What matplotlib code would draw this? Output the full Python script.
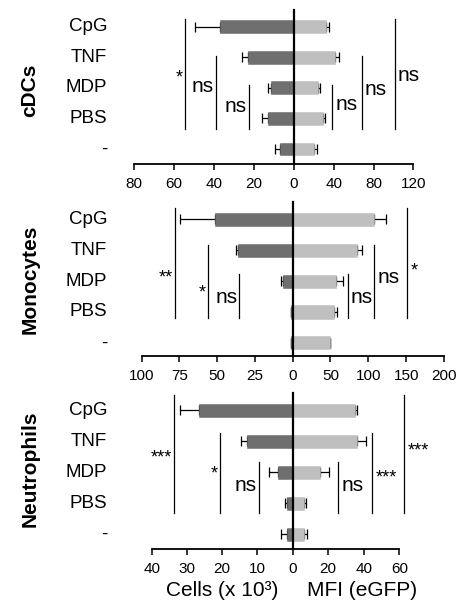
import matplotlib
matplotlib.use("Agg")
import matplotlib.pyplot as plt
import matplotlib.transforms as mtransforms

plt.rcParams['font.family'] = ['Liberation Sans', 'DejaVu Sans']

categories = ['CpG', 'TNF', 'MDP', 'PBS', '-']

# cDCs
cdc_cells = [36.7, 22.8, 11.5, 13.2, 7.0]
cdc_cells_err = [12.8, 3.4, 1.3, 3.0, 2.5]
cdc_mfi = [31.7, 41.0, 23.7, 28.7, 20.3]
cdc_mfi_err = [3.3, 4.5, 2.3, 2.3, 3.0]

# Monocytes
mono_cells = [51.7, 36.2, 6.0, 1.1, 0.7]
mono_cells_err = [22.7, 1.3, 1.7, 0.0, 0.0]
mono_mfi = [107.0, 85.0, 57.7, 55.0, 49.0]
mono_mfi_err = [16.0, 6.5, 8.3, 3.6, 0.5]

# Neutrophils
neut_cells = [26.7, 12.9, 4.3, 1.7, 1.7]
neut_cells_err = [5.2, 1.9, 2.3, 0.4, 1.6]
neut_mfi = [35.0, 36.0, 15.4, 6.6, 6.6]
neut_mfi_err = [1.3, 5.2, 5.2, 0.9, 1.3]

# significance: (x value, first category index, label)
cdc_sig_left = [(54.3, 0, '*'), (39.0, 1, 'ns'), (22.7, 2, 'ns')]
cdc_sig_right = [(38.7, 2, 'ns'), (68.0, 1, 'ns'), (101.3, 0, 'ns')]
mono_sig_left = [(77.9, 0, '**'), (56.3, 1, '*'), (35.3, 2, 'ns')]
mono_sig_right = [(72.5, 2, 'ns'), (107.7, 1, 'ns'), (151.2, 0, '*')]
neut_sig_left = [(33.7, 0, '***'), (20.6, 1, '*'), (9.7, 2, 'ns')]
neut_sig_right = [(25.7, 2, 'ns'), (44.8, 1, '***'), (62.8, 0, '***')]

dark = '#6f6f6f'
light = '#bfbfbf'

W, H = 457, 609
fig = plt.figure(figsize=(W / 100, H / 100), dpi=100)


def px_axes(x0, x1, top, bottom):
    return fig.add_axes([x0 / W, 1 - bottom / H, (x1 - x0) / W, (bottom - top) / H])


def sig_label(ax, x, y, text, side):
    big = text == 'ns'
    off = -2 if side == 'left' else 3
    tr = mtransforms.offset_copy(ax.transData, fig=fig, x=off, y=0, units='dots')
    ax.text(x, y if big else y + 0.2, text, transform=tr,
            ha='right' if side == 'left' else 'left', va='center',
            fontsize=15 if big else 13, clip_on=False)


def draw_panel(name, name_y, cells, cells_err, mfi, mfi_err, sig_l, sig_r,
               x0, zero, x1, top, bottom, ylim, lmax, rmax, lticks, rticks,
               tops, sig_bottom, label_y):
    axl = px_axes(x0, zero, top, bottom)
    axr = px_axes(zero, x1, top, bottom)
    y = list(range(len(categories)))
    for ax, vals, errs, col, xmax in [(axl, cells, cells_err, dark, lmax),
                                      (axr, mfi, mfi_err, light, rmax)]:
        ax.errorbar(vals, y, xerr=[[0] * len(vals), errs], fmt='none',
                    ecolor='black', elinewidth=0.9, capsize=3.5, capthick=0.9,
                    zorder=1)
        ax.barh(y, vals, height=0.42, color=col, edgecolor=col, lw=0.4, zorder=2)
        ax.set_ylim(*ylim)
        for s in ['left', 'right', 'top']:
            ax.spines[s].set_visible(False)
        ax.spines['bottom'].set_linewidth(1.3)
        ax.set_yticks([])
        ax.tick_params(axis='x', length=4.5, width=1.1, labelsize=11, pad=4.5)
        ax.patch.set_alpha(0)
    axl.set_xlim(lmax, 0)
    axr.set_xlim(0, rmax)
    axl.set_xticks(lticks)
    axl.set_xticklabels([str(t) for t in lticks])
    axr.set_xticks(rticks)
    axr.set_xticklabels([str(t) for t in rticks])
    axr.axvline(0, color='black', lw=1.6, clip_on=False, zorder=3)

    for ax, sigs, side in [(axl, sig_l, 'left'), (axr, sig_r, 'right')]:
        for (xv, first, text) in sigs:
            t = tops[first]
            ax.plot([xv, xv], [t, sig_bottom], color='black', lw=0.9,
                    clip_on=False)
            sig_label(ax, xv, label_y[side][first], text, side)

    tr = mtransforms.blended_transform_factory(fig.transFigure, axl.transData)
    for i, c in enumerate(categories):
        fig.text(107 / W, i, c, transform=tr, ha='right', va='center',
                 fontsize=13.5)
    fig.text(30 / W, 1 - name_y / H, name, rotation=90,
             ha='center', va='center', fontsize=15, fontweight='bold')


draw_panel('cDCs', 90, cdc_cells, cdc_cells_err, cdc_mfi, cdc_mfi_err,
           cdc_sig_left, cdc_sig_right,
           133.7, 294, 413.3, 10, 164, (4.49, -0.546), 80, 120,
           [80, 60, 40, 20, 0], [40, 80, 120],
           {0: -0.25, 1: 0.96, 2: 1.9}, 3.34,
           {'left': {0: 1.47, 1: 1.96, 2: 2.61}, 'right': {2: 2.56, 1: 2.07, 0: 1.61}})

draw_panel('Monocytes', 279, mono_cells, mono_cells_err, mono_mfi, mono_mfi_err,
           mono_sig_left, mono_sig_right,
           141.7, 292.5, 444.3, 202, 356, (4.42, -0.55), 100, 200,
           [100, 75, 50, 25, 0], [50, 100, 150, 200],
           {0: -0.35, 1: 0.84, 2: 1.77}, 3.18,
           {'left': {0: 1.71, 1: 2.19, 2: 2.52}, 'right': {2: 2.52, 1: 1.9, 0: 1.48}})

draw_panel('Neutrophils', 469, neut_cells, neut_cells_err, neut_mfi, neut_mfi_err,
           neut_sig_left, neut_sig_right,
           151.7, 292.7, 399.3, 393, 549.3, (4.49, -0.55), 40, 60,
           [40, 30, 20, 10, 0], [20, 40, 60],
           {0: -0.48, 1: 0.75, 2: 1.67}, 3.33,
           {'left': {0: 1.35, 1: 1.87, 2: 2.42}, 'right': {2: 2.42, 1: 1.98, 0: 1.13}})

fig.text(222 / W, 1 - 591 / H, 'Cells (x 10³)', ha='center', va='center', fontsize=15)
fig.text(362 / W, 1 - 591 / H, 'MFI (eGFP)', ha='center', va='center', fontsize=15)

fig.savefig('out.png', dpi=100)
